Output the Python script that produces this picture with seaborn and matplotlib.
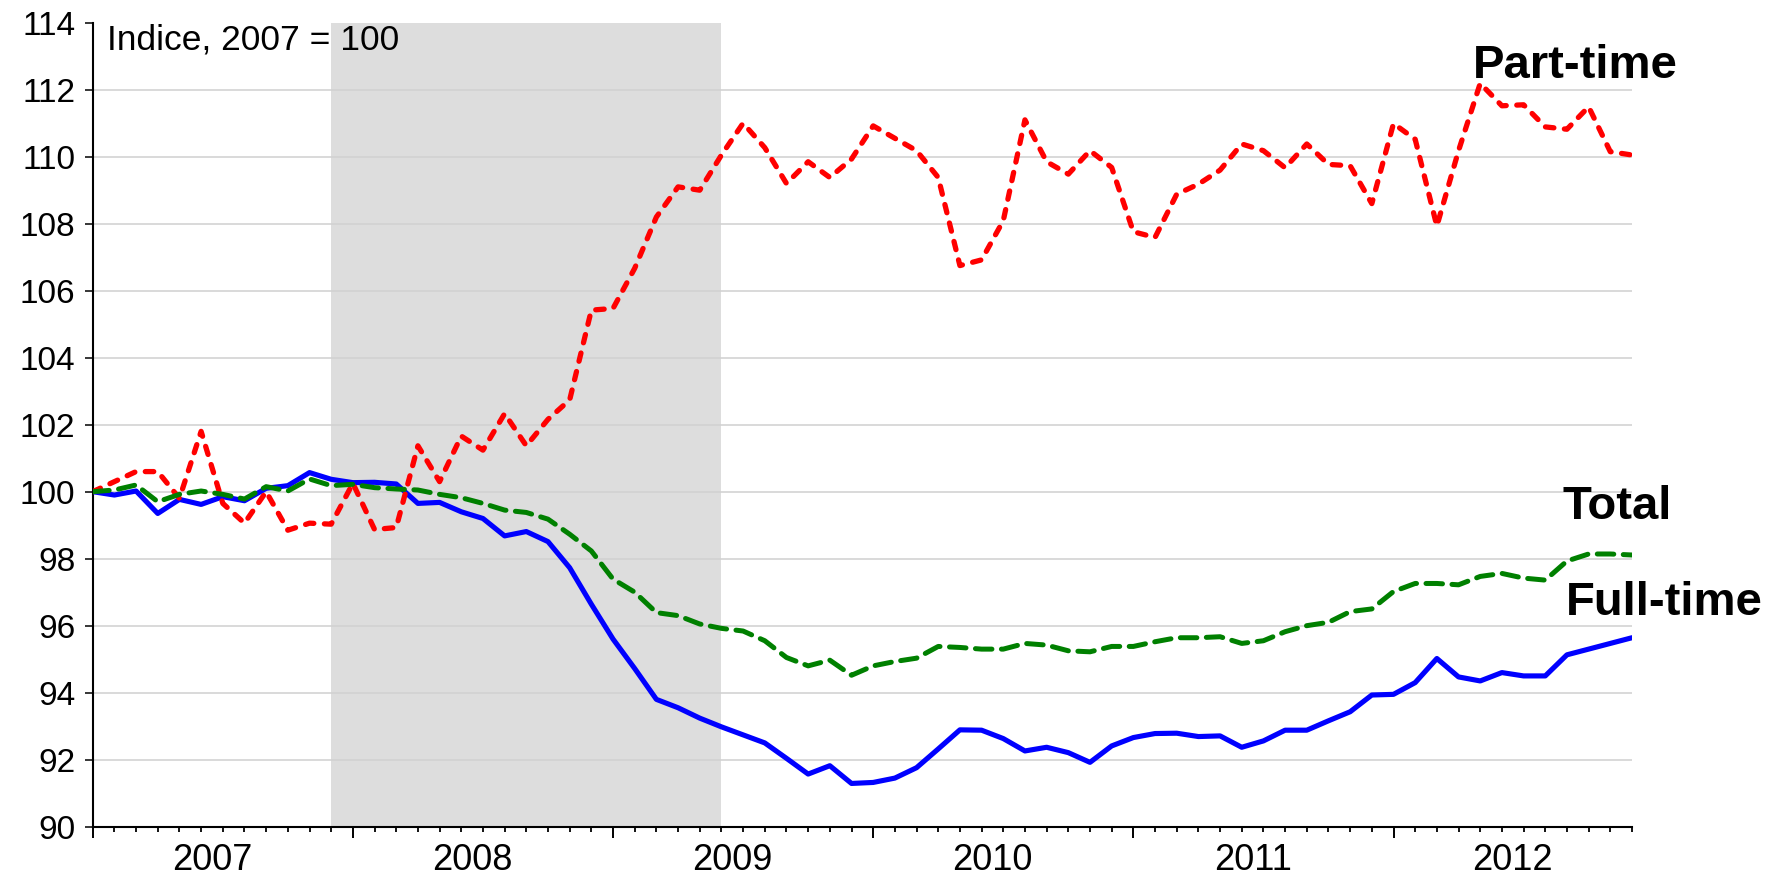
import numpy as np
import pandas as pd
import matplotlib
matplotlib.use("Agg")
import matplotlib.pyplot as plt
from matplotlib import font_manager
from matplotlib.ticker import MultipleLocator
import seaborn as sns

# Monthly index, Jan 2007 - Dec 2012 (2007 = 100)
years = [2007, 2008, 2009, 2010, 2011, 2012]
recession = (11, 29)  # Dec 2007 - Jun 2009, month index

full_time = [
    100.0, 99.9, 100.02, 99.35, 99.77, 99.62, 99.85, 99.73, 100.1, 100.18, 100.57, 100.37,
    100.27, 100.28, 100.23, 99.65, 99.68, 99.4, 99.2, 98.68, 98.81, 98.51, 97.73, 96.64,
    95.6, 94.72, 93.8, 93.55, 93.24, 92.98, 92.74, 92.5, 92.04, 91.57, 91.82, 91.29,
    91.32, 91.45, 91.76, 92.32, 92.89, 92.88, 92.63, 92.26, 92.37, 92.21, 91.92, 92.41,
    92.66, 92.78, 92.79, 92.69, 92.71, 92.37, 92.56, 92.88, 92.88, 93.16, 93.43, 93.93,
    93.95, 94.3, 95.02, 94.47, 94.35, 94.6, 94.5, 94.5, 95.13, 95.3, 95.47, 95.64,
]
part_time = [
    100.0, 100.3, 100.6, 100.6, 99.8, 101.8, 99.65, 99.06, 100.0, 98.85, 99.06, 99.03,
    100.25, 98.87, 98.93, 101.37, 100.3, 101.66, 101.24, 102.33, 101.37, 102.16, 102.74, 105.42,
    105.47, 106.67, 108.2, 109.1, 109.0, 110.05, 111.0, 110.27, 109.2, 109.85, 109.38, 109.93,
    110.92, 110.55, 110.18, 109.38, 106.75, 106.92, 108.09, 111.1, 109.85, 109.48, 110.18, 109.68,
    107.76, 107.59, 108.88, 109.18, 109.6, 110.38, 110.18, 109.67, 110.38, 109.77, 109.73, 108.6,
    110.99, 110.52, 107.93, 110.18, 112.19, 111.52, 111.55, 110.89, 110.82, 111.49, 110.15, 110.05,
]
total = [
    100.0, 100.05, 100.2, 99.7, 99.92, 100.02, 99.92, 99.78, 100.15, 100.02, 100.38, 100.18,
    100.22, 100.12, 100.08, 100.05, 99.92, 99.82, 99.65, 99.45, 99.38, 99.18, 98.73, 98.23,
    97.39, 97.0, 96.39, 96.3, 96.05, 95.92, 95.84, 95.55, 95.05, 94.8, 94.97, 94.52,
    94.8, 94.93, 95.03, 95.38, 95.35, 95.3, 95.3, 95.47, 95.42, 95.25, 95.22, 95.38,
    95.38, 95.52, 95.64, 95.64, 95.67, 95.47, 95.55, 95.82, 96.0, 96.1, 96.42, 96.5,
    97.02, 97.26, 97.26, 97.22, 97.47, 97.56, 97.42, 97.36, 97.93, 98.14, 98.14, 98.11,
]

df = pd.DataFrame({
    "month": np.arange(len(total)),
    "Full-time": full_time,
    "Part-time": part_time,
    "Total": total,
})

sns.set_style("white")
plt.rcParams['font.family'] = ['Liberation Sans', 'DejaVu Sans']
plt.rcParams['text.color'] = 'black'

# narrow face for the index note, if one is installed
narrow_file = None
for f in font_manager.fontManager.ttflist:
    if 'LiberationSansNarrow-Regular' in f.fname:
        narrow_file = f.fname
        break
if narrow_file:
    note_font = font_manager.FontProperties(fname=narrow_file, size=28)
else:
    note_font = font_manager.FontProperties(family=['Liberation Sans', 'DejaVu Sans'], size=25.5)

fig = plt.figure(figsize=(17.83, 8.77), dpi=100)
ax = fig.add_axes([0.052, 0.0574, 0.8633, 0.9167])

# recession shading
ax.axvspan(recession[0], recession[1], color='#dddddd', lw=0, zorder=0)
for v in range(92, 114, 2):
    ax.axhline(v, color='#d0d0d0', lw=1.1, zorder=1)

sns.lineplot(data=df, x="month", y="Full-time", ax=ax, color='#0000ff', lw=3.7,
             solid_capstyle='round', solid_joinstyle='round', zorder=3)
sns.lineplot(data=df, x="month", y="Part-time", ax=ax, color='#ff0000', lw=3.8,
             linestyle=(0, (1.6, 2.0)), dash_capstyle='round', dash_joinstyle='round', zorder=4)
sns.lineplot(data=df, x="month", y="Total", ax=ax, color='#008000', lw=3.6,
             linestyle=(0, (3.3, 1.9)), dash_capstyle='round', dash_joinstyle='round', zorder=5)

ax.set_xlim(0, 71)
ax.set_ylim(90, 114)
ax.set_yticks(range(90, 115, 2))
ax.set_xticks(range(0, 72, 12))
ax.xaxis.set_minor_locator(MultipleLocator(1))
ax.set_xticklabels([])
ax.set_xlabel("")
ax.set_ylabel("")

for s in ['top', 'right']:
    ax.spines[s].set_visible(False)
for s in ['left', 'bottom']:
    ax.spines[s].set_color('black')
    ax.spines[s].set_linewidth(1.5)

ax.tick_params(axis='y', which='major', direction='out', length=5.5, width=1.1,
               pad=7, labelsize=24, colors='black', left=True)
ax.tick_params(axis='x', which='major', direction='out', length=8, width=1.4,
               colors='black', bottom=True)
ax.tick_params(axis='x', which='minor', direction='out', length=3.8, width=1.3,
               colors='black', bottom=True)

for i, yr in enumerate(years):
    ax.text(5.5 + 12 * i, -0.054, str(yr), transform=ax.get_xaxis_transform(),
            ha='center', va='baseline', fontsize=26, color='black')

ax.text(0.66, 113.2, "Indice, 2007 = 100", fontproperties=note_font,
        ha='left', va='baseline', color='black')
ax.text(63.65, 112.35, "Part-time", fontsize=34, fontweight='bold', ha='left', va='baseline')
ax.text(67.8, 99.19, "Total", fontsize=34, fontweight='bold', ha='left', va='baseline')
ax.text(67.93, 96.31, "Full-time", fontsize=34, fontweight='bold', ha='left', va='baseline')

for t in ax.texts:
    t.set_clip_on(False)

fig.savefig("out.png", dpi=100)
